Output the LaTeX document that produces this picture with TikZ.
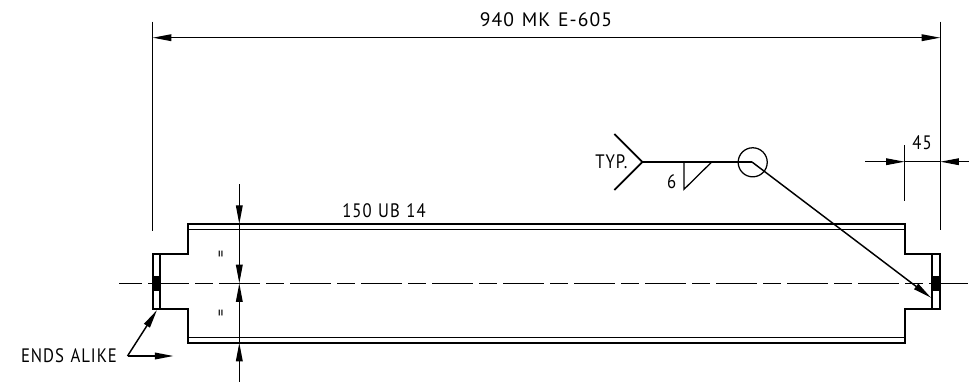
\documentclass[tikz,border=0pt]{standalone}
\usepackage{fontspec}
\setmainfont[LetterSpace=5,WordSpace=1.2,FakeStretch=0.86]{PT Sans}
\usetikzlibrary{arrows.meta, positioning}

\begin{document}
\begin{tikzpicture}[
    x=0.75pt, y=-0.75pt,
    outline/.style={line width=1.35pt, line join=miter},
    thinline/.style={line width=0.95pt},
    dimarrow/.style={thinline, -{Triangle[length=14pt, width=5pt]}},
    label/.style={font=\fontsize{14.6pt}{16pt}\selectfont, inner sep=0pt},
    equal/.style={font=\fontsize{12pt}{14pt}\selectfont, inner sep=0pt, rotate=90},
    centreline/.style={line width=1.2pt, dash pattern=on 30.75pt off 4.5pt on 13.5pt off 4.5pt}
]
    \useasboundingbox (0,0) rectangle (969,383);

    % beam and end plates
    \draw[outline] (160.3,254) -- (188,254) -- (188,224) -- (905,224) -- (905,254) -- (932.3,254);
    \draw[outline] (160.3,309) -- (188,309) -- (188,342.7) -- (905,342.7) -- (905,309) -- (932.3,309);
    \draw[thinline] (188,229.3) -- (905,229.3);
    \draw[thinline] (188,337.3) -- (905,337.3);
    \draw[outline] (152.7,254) rectangle (160.3,309);
    \draw[outline] (932.3,254) rectangle (940.3,309);
    \fill (152.7,276) rectangle (160.3,290.7);
    \fill (932.3,276) rectangle (940.3,290.7);

    % centre line
    \draw[centreline] (119,283.3) -- (142,283.3);
    \draw[centreline] (148,283.3) -- (968,283.3);

    % overall length
    \coordinate (lenL) at (152.7,37.7);
    \coordinate (lenR) at (940.3,37.7);
    \draw[thinline] (152.7,21.5) -- (152.7,230.5);
    \draw[thinline] (940.3,21.5) -- (940.3,230);
    \draw[dimarrow, {Triangle[length=14pt, width=5pt]}-{Triangle[length=14pt, width=5pt]}] (lenL) -- (lenR);
    \node[label, xscale=1.17] (length) at (546,20) {940 MK E-605};

    % 45 dimension
    \coordinate (endA) at (865,161.7);
    \coordinate (endB) at (904.7,161.7);
    \coordinate (endC) at (969,161.7);
    \coordinate (endD) at (940.3,161.7);
    \draw[thinline] (904.7,145) -- (904.7,201);
    \draw[dimarrow] (endA) -- (endB);
    \draw[dimarrow] (endC) -- (endD);
    \draw[thinline] (endB) -- (endD);
    \node[label] (end) at (922,143) {45};

    % weld symbol
    \coordinate (tail) at (642.3,162);
    \coordinate (site) at (752,162);
    \coordinate (plate) at (931,297.7);
    \node[draw, circle, thinline, minimum size=21.8pt, inner sep=0pt] (allround) at (752.7,162.3) {};
    \draw[outline] (614.3,134) -- (tail) -- (614.3,190);
    \draw[outline] (tail) -- (site);
    \draw[thinline] (684,162) -- (684,189.3) -- (711.7,162);
    \draw[dimarrow, line width=1.1pt] (site) -- (plate);
    \node[label] (typ) at (611.5,162) {TYP.};
    \node[label] (size) at (671.7,181.7) {6};

    % web centring
    \coordinate (webA) at (239.3,184.3);
    \coordinate (webB) at (239.3,224);
    \coordinate (webC) at (239.3,283.3);
    \coordinate (webD) at (239.3,342.7);
    \coordinate (webE) at (239.3,381.7);
    \draw[dimarrow] (webA) -- (webB);
    \draw[dimarrow] (webB) -- (webC);
    \draw[dimarrow] (webD) -- (webC);
    \draw[dimarrow] (webE) -- (webD);
    \node[equal] (eqtop) at (222.5,254) {=};
    \node[equal] (eqbot) at (222.5,313) {=};

    % section
    \node[label] (section) at (384,211) {150 UB 14};

    % note
    \node[label] (ends) at (69,356) {ENDS ALIKE};
    \coordinate (bend) at (127.5,356);
    \coordinate (tipA) at (157,310);
    \coordinate (tipB) at (173.5,356);
    \draw[dimarrow, line width=1.1pt] (bend) -- (tipA);
    \draw[dimarrow, line width=1.1pt] (bend) -- (tipB);
\end{tikzpicture}
\end{document}
